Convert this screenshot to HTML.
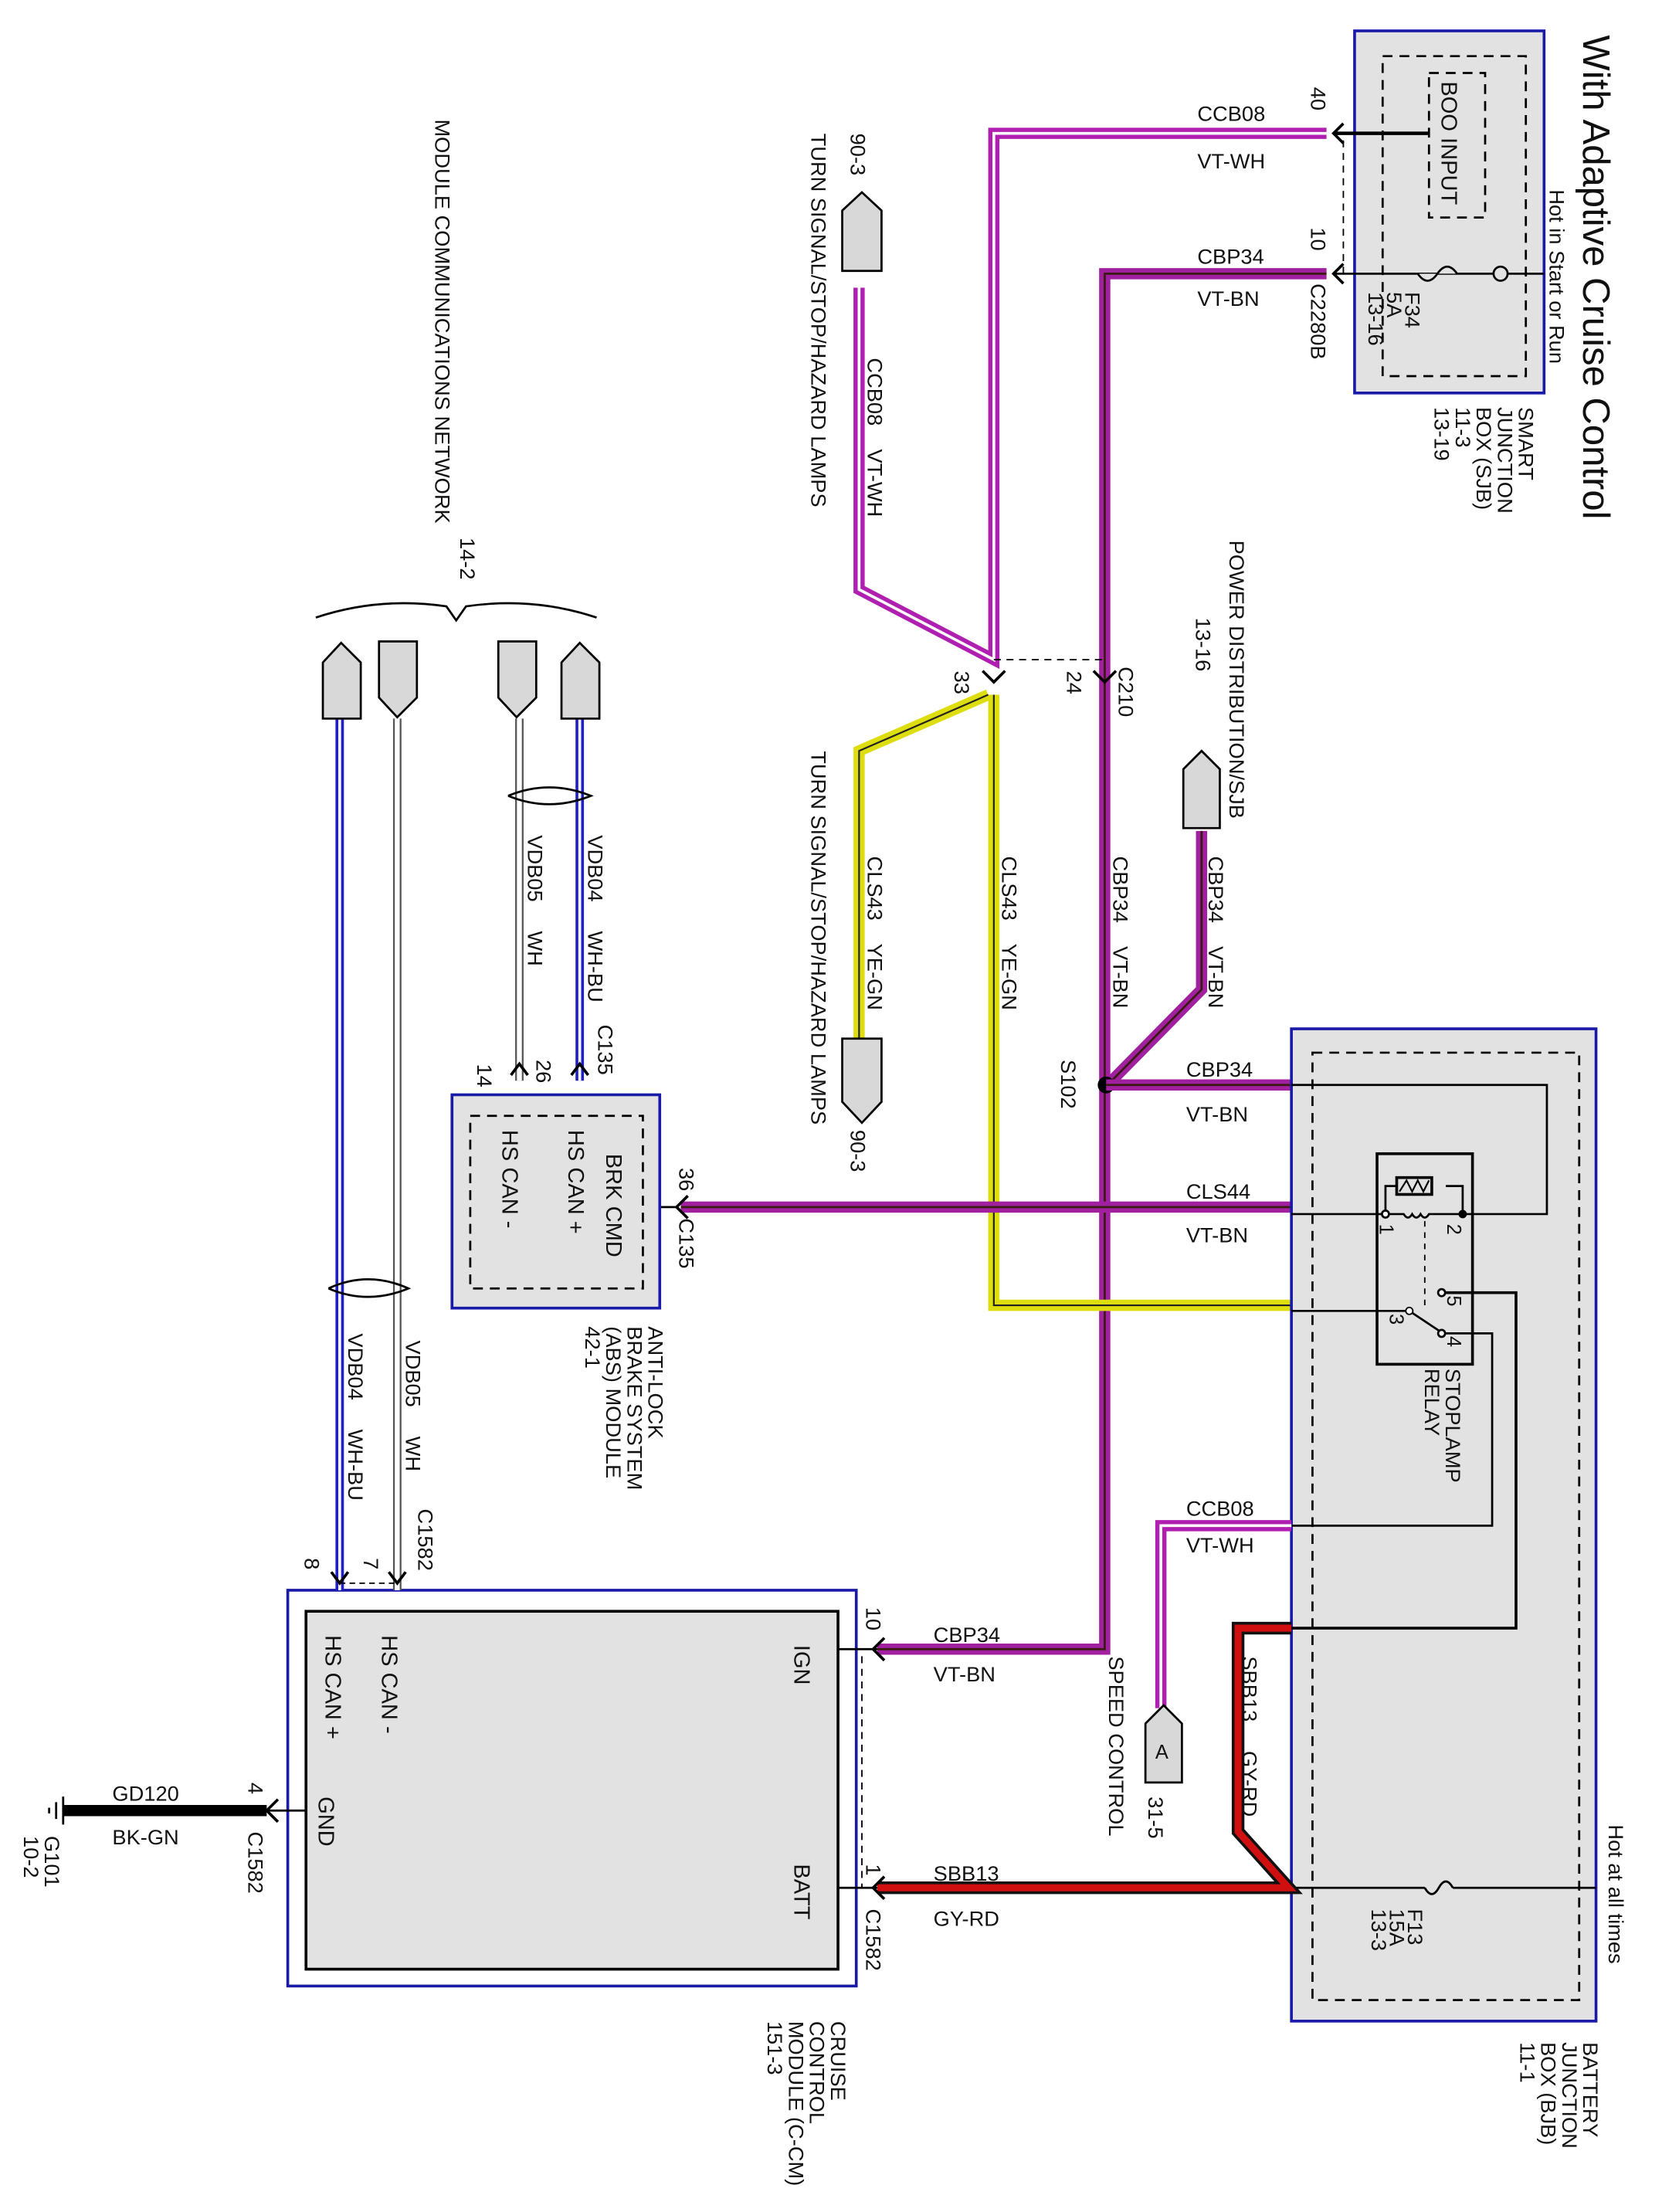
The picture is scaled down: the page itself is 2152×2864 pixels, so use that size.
<!DOCTYPE html>
<html><head><meta charset="utf-8"><style>
html,body{margin:0;padding:0;background:#fff;}
svg{display:block;}
text{font-family:"Liberation Sans",sans-serif;fill:#111;}
</style></head><body>
<svg width="2152" height="2864" viewBox="0 0 1184 1576" preserveAspectRatio="none" xmlns="http://www.w3.org/2000/svg" font-size="14">
<rect width="1184" height="1576" fill="#fff"/>

<!-- SJB -->
<rect x="965" y="22" width="135" height="258" fill="#e2e2e2" stroke="#1a1aa8" stroke-width="2"/>
<rect x="985" y="40" width="102" height="228" fill="none" stroke="#000" stroke-width="1.5" stroke-dasharray="7,5"/>
<rect x="1018" y="52" width="40" height="103" fill="none" stroke="#000" stroke-width="1.5" stroke-dasharray="7,5"/>
<text transform="translate(1027,58) rotate(90)" font-size="16">BOO INPUT</text>
<line x1="1018" y1="95" x2="950" y2="95" stroke="#000" stroke-width="2.5"/>
<line x1="1100" y1="195" x2="950" y2="195" stroke="#000" stroke-width="1.5"/>
<circle cx="1069" cy="195" r="5" fill="#e2e2e2" stroke="#000" stroke-width="1.5"/>
<path d="M1038 195 q-7 -10 -14 0 q-7 10 -14 0" fill="#e2e2e2" stroke="#000" stroke-width="1.5"/>
<text transform="translate(1001,208) rotate(90)" font-size="15">F34</text>
<text transform="translate(988,208) rotate(90)" font-size="15">5A</text>
<text transform="translate(975,208) rotate(90)" font-size="15">13-16</text>
<line x1="957" y1="100" x2="957" y2="195" stroke="#000" stroke-dasharray="5,4"/>
<path d="M957 88 L950 95 L957 102 M957 188 L950 195 L957 202" fill="none" stroke="#000" stroke-width="2"/>
<text transform="translate(934,62) rotate(90)" font-size="15">40</text>
<text transform="translate(934,162) rotate(90)" font-size="15">10</text>
<text transform="translate(934,202) rotate(90)" font-size="15">C2280B</text>
<text transform="translate(1128,25) rotate(90)" font-size="27">With Adaptive Cruise Control</text>
<text transform="translate(1104,135) rotate(90)" font-size="15">Hot in Start or Run</text>
<g font-size="15">
<text transform="translate(1082,290) rotate(90)">SMART</text>
<text transform="translate(1067,290) rotate(90)">JUNCTION</text>
<text transform="translate(1052,290) rotate(90)">BOX (SJB)</text>
<text transform="translate(1037,290) rotate(90)">11-3</text>
<text transform="translate(1022,290) rotate(90)">13-19</text>
</g>

<!-- CCB08 from SJB -->
<path d="M945 95 H708 V470 L612 420 V205" fill="none" stroke="#b020b0" stroke-width="8"/>
<path d="M945 95 H708 V470 L612 420 V205" fill="none" stroke="#fff" stroke-width="2"/>
<text x="853" y="86" font-size="15">CCB08</text><text x="853" y="120" font-size="15">VT-WH</text>
<!-- CBP34 from SJB -->
<path d="M945 195 H787 V1175 H625" fill="none" stroke="#a020a0" stroke-width="8"/>
<path d="M945 195 H787 V1175 H625" fill="none" stroke="#3a1a10" stroke-width="1.5"/>
<text x="853" y="188" font-size="15">CBP34</text><text x="853" y="218" font-size="15">VT-BN</text>

<!-- C210 -->
<line x1="708" y1="470" x2="787" y2="470" stroke="#000" stroke-dasharray="5,4"/>
<path d="M700 478 L708 486 L716 478 M779 478 L787 486 L795 478" fill="none" stroke="#000" stroke-width="2"/>
<g font-size="15">
<text transform="translate(797,475) rotate(90)">C210</text>
<text transform="translate(760,478) rotate(90)">24</text>
<text transform="translate(680,478) rotate(90)">33</text>
</g>

<!-- yellow CLS43 -->
<path d="M708 495 V930 H920" fill="none" stroke="#dddd10" stroke-width="8"/>
<path d="M708 495 V930 H920" fill="none" stroke="#222" stroke-width="1.2"/>
<path d="M704 495 L612 535 V740" fill="none" stroke="#dddd10" stroke-width="8"/>
<path d="M704 495 L612 535 V740" fill="none" stroke="#222" stroke-width="1.2"/>

<!-- pentagon connectors -->
<path d="M600 193 V150 L614 137 L628 150 V193 Z" fill="#d8d8d8" stroke="#000" stroke-width="1.5"/>
<path d="M600 740 V785 L614 800 L628 785 V740 Z" fill="#d8d8d8" stroke="#000" stroke-width="1.5"/>
<g font-size="15">
<text transform="translate(606,95) rotate(90)">90-3</text>
<text transform="translate(578,95) rotate(90)">TURN SIGNAL/STOP/HAZARD LAMPS</text>
<text transform="translate(618,255) rotate(90)" xml:space="preserve">CCB08    VT-WH</text>
<text transform="translate(606,805) rotate(90)">90-3</text>
<text transform="translate(578,535) rotate(90)">TURN SIGNAL/STOP/HAZARD LAMPS</text>
<text transform="translate(618,610) rotate(90)" xml:space="preserve">CLS43    YE-GN</text>
<text transform="translate(714,610) rotate(90)" xml:space="preserve">CLS43    YE-GN</text>
<text transform="translate(793,610) rotate(90)" xml:space="preserve">CBP34    VT-BN</text>
</g>

<!-- power distribution -->
<path d="M843 590 V548 L856 535 L869 548 V590 Z" fill="#d8d8d8" stroke="#000" stroke-width="1.5"/>
<path d="M856 592 V705 L790 772" fill="none" stroke="#a020a0" stroke-width="8"/>
<path d="M856 592 V705 L790 772" fill="none" stroke="#3a1a10" stroke-width="1.5"/>
<g font-size="15">
<text transform="translate(861,610) rotate(90)" xml:space="preserve">CBP34    VT-BN</text>
<text transform="translate(876,385) rotate(90)">POWER DISTRIBUTION/SJB</text>
<text transform="translate(852,440) rotate(90)">13-16</text>
<text transform="translate(756,755) rotate(90)">S102</text>
</g>
<circle cx="788" cy="773" r="6" fill="#000"/>
<path d="M788 773 H920" fill="none" stroke="#a020a0" stroke-width="8"/>
<path d="M788 773 H920" fill="none" stroke="#3a1a10" stroke-width="1.5"/>
<text x="845" y="767" font-size="15">CBP34</text><text x="845" y="799" font-size="15">VT-BN</text>

<!-- CLS44 -->
<path d="M485 860 H920" fill="none" stroke="#a020a0" stroke-width="8"/>
<path d="M485 860 H920" fill="none" stroke="#3a1a10" stroke-width="1.5"/>
<path d="M490 852 L482 860 L490 868" fill="none" stroke="#000" stroke-width="2"/>
<line x1="460" y1="860" x2="482" y2="860" stroke="#000" stroke-width="1.5"/>
<text x="845" y="854" font-size="15">CLS44</text><text x="845" y="885" font-size="15">VT-BN</text>
<text transform="translate(484,832) rotate(90)" font-size="15">36</text>
<text transform="translate(484,868) rotate(90)" font-size="15">C135</text>

<!-- BJB -->
<rect x="920" y="733" width="217" height="707" fill="#e2e2e2" stroke="#1a1aa8" stroke-width="2"/>
<rect x="935" y="750" width="190" height="675" fill="none" stroke="#000" stroke-width="1.5" stroke-dasharray="7,5"/>
<rect x="981" y="822" width="68" height="150" fill="none" stroke="#000" stroke-width="2"/>
<path d="M920 773 H1102 V865 H1042" fill="none" stroke="#000" stroke-width="1.5"/>
<path d="M920 865 H987" fill="none" stroke="#000" stroke-width="1.5"/>
<path d="M987 865 V845 H995 M1042 865 V845 H1030" fill="none" stroke="#000" stroke-width="1.5"/>
<rect x="995" y="839" width="25" height="12" fill="none" stroke="#000" stroke-width="2"/>
<path d="M997 849 L1002 841 L1006 849 L1010 841 L1014 849 L1018 841" fill="none" stroke="#000" stroke-width="1.2"/>
<path d="M990 865 H1000 q3 5 6 0 q3 5 6 0 q3 5 6 0 H1040" fill="none" stroke="#000" stroke-width="1.5"/>
<line x1="1015" y1="870" x2="1015" y2="930" stroke="#000" stroke-dasharray="4,4"/>
<circle cx="987" cy="865" r="2.5" fill="#fff" stroke="#000" stroke-width="1.5"/>
<circle cx="1042" cy="865" r="3" fill="#000"/>
<text transform="translate(983,872) rotate(90)" font-size="14">1</text>
<text transform="translate(1031,872) rotate(90)" font-size="14">2</text>
<path d="M920 934 H1004 L1025 948" fill="none" stroke="#000" stroke-width="1.5"/>
<circle cx="1004" cy="934" r="2.5" fill="#fff" stroke="#000"/>
<circle cx="1027" cy="921" r="2.5" fill="#fff" stroke="#000" stroke-width="1.5"/>
<circle cx="1027" cy="950" r="2.5" fill="#fff" stroke="#000" stroke-width="1.5"/>
<text transform="translate(990,936) rotate(90)" font-size="14">3</text>
<text transform="translate(1031,923) rotate(90)" font-size="14">5</text>
<text transform="translate(1031,952) rotate(90)" font-size="14">4</text>
<path d="M1030 921 H1080 V1160 H920" fill="none" stroke="#000" stroke-width="2"/>
<path d="M1030 950 H1063 V1087 H920" fill="none" stroke="#000" stroke-width="1.5"/>
<text transform="translate(1030,975) rotate(90)" font-size="15">STOPLAMP</text>
<text transform="translate(1015,975) rotate(90)" font-size="15">RELAY</text>
<line x1="920" y1="1345" x2="1137" y2="1345" stroke="#000" stroke-width="1.5"/>
<rect x="1015" y="1341" width="20" height="8" fill="#e2e2e2"/>
<path d="M1035 1345 q-5 -9 -10 0 q-5 9 -10 0" fill="none" stroke="#000" stroke-width="1.5"/>
<g font-size="15">
<text transform="translate(1003,1360) rotate(90)">F13</text>
<text transform="translate(990,1360) rotate(90)">15A</text>
<text transform="translate(977,1360) rotate(90)">13-3</text>
<text transform="translate(1146,1300) rotate(90)">Hot at all times</text>
<text transform="translate(1128,1455) rotate(90)">BATTERY</text>
<text transform="translate(1113,1455) rotate(90)">JUNCTION</text>
<text transform="translate(1098,1455) rotate(90)">BOX (BJB)</text>
<text transform="translate(1083,1455) rotate(90)">11-1</text>
</g>

<!-- CCB08 speed control -->
<path d="M920 1087 H827 V1217" fill="none" stroke="#b020b0" stroke-width="8"/>
<path d="M920 1087 H827 V1217" fill="none" stroke="#fff" stroke-width="2"/>
<text x="845" y="1080" font-size="15">CCB08</text><text x="845" y="1106" font-size="15">VT-WH</text>
<path d="M816 1270 V1228 L829 1215 L842 1228 V1270 Z" fill="#d8d8d8" stroke="#000" stroke-width="1.5"/>
<text x="823" y="1253" font-size="14">A</text>
<text transform="translate(818,1280) rotate(90)" font-size="15">31-5</text>
<text transform="translate(790,1180) rotate(90)" font-size="15">SPEED CONTROL</text>

<!-- SBB13 -->
<path d="M920 1160 H882 V1305 L918 1345 H625" fill="none" stroke="#111" stroke-width="9"/>
<path d="M920 1160 H882 V1305 L918 1345 H625" fill="none" stroke="#d01010" stroke-width="5"/>
<text transform="translate(885,1180) rotate(90)" font-size="15" xml:space="preserve">SBB13     GY-RD</text>
<text x="665" y="1340" font-size="15">SBB13</text><text x="665" y="1372" font-size="15">GY-RD</text>
<text x="665" y="1170" font-size="15">CBP34</text><text x="665" y="1198" font-size="15">VT-BN</text>

<!-- C-CM -->
<rect x="205" y="1133" width="405" height="282" fill="#fff" stroke="#1a1aa8" stroke-width="2"/>
<rect x="218" y="1148" width="379" height="255" fill="#e2e2e2" stroke="#000" stroke-width="2"/>
<line x1="597" y1="1175" x2="625" y2="1175" stroke="#000" stroke-width="1.5"/>
<line x1="597" y1="1345" x2="625" y2="1345" stroke="#000" stroke-width="1.5"/>
<path d="M630 1167 L622 1175 L630 1183 M630 1337 L622 1345 L630 1353" fill="none" stroke="#000" stroke-width="2"/>
<line x1="614" y1="1180" x2="614" y2="1345" stroke="#000" stroke-dasharray="5,4"/>
<g font-size="15">
<text transform="translate(617,1145) rotate(90)">10</text>
<text transform="translate(617,1328) rotate(90)">1</text>
<text transform="translate(617,1360) rotate(90)">C1582</text>
<text transform="translate(566,1172) rotate(90)" font-size="16">IGN</text>
<text transform="translate(566,1328) rotate(90)" font-size="16">BATT</text>
<text transform="translate(272,1165) rotate(90)" font-size="16">HS CAN -</text>
<text transform="translate(232,1165) rotate(90)" font-size="16">HS CAN +</text>
<text transform="translate(227,1280) rotate(90)" font-size="16">GND</text>
<text transform="translate(592,1440) rotate(90)">CRUISE</text>
<text transform="translate(577,1440) rotate(90)">CONTROL</text>
<text transform="translate(562,1440) rotate(90)">MODULE (C-CM)</text>
<text transform="translate(547,1440) rotate(90)">151-3</text>
</g>

<!-- GND -->
<line x1="45" y1="1290" x2="190" y2="1290" stroke="#000" stroke-width="8"/>
<line x1="190" y1="1290" x2="218" y2="1290" stroke="#000" stroke-width="1.5"/>
<path d="M198 1282 L190 1290 L198 1298" fill="none" stroke="#000" stroke-width="2"/>
<text x="80" y="1283" font-size="15">GD120</text><text x="80" y="1314" font-size="15">BK-GN</text>
<text transform="translate(177,1270) rotate(90)" font-size="15">4</text>
<text transform="translate(177,1305) rotate(90)" font-size="15">C1582</text>
<path d="M45 1280 V1300 M40 1284 V1296 M35 1288 V1292" stroke="#000" stroke-width="1.5"/>
<text transform="translate(32,1308) rotate(90)" font-size="15">G101</text>
<text transform="translate(17,1308) rotate(90)" font-size="15">10-2</text>

<!-- CAN wires to C-CM -->
<path d="M242 512 V1133" stroke="#2020c0" stroke-width="6" fill="none"/>
<path d="M242 512 V1133" stroke="#fff" stroke-width="2" fill="none"/>
<path d="M283 512 V1133" stroke="#555" stroke-width="6" fill="none"/>
<path d="M283 512 V1133" stroke="#fff" stroke-width="3.5" fill="none"/>
<path d="M234 918 Q262 905 291 918 Q262 930 234 918" fill="none" stroke="#000" stroke-width="1.5"/>
<path d="M236 1120 L242 1128 L248 1120 M277 1120 L283 1128 L289 1120" fill="none" stroke="#000" stroke-width="2"/>
<line x1="242" y1="1128" x2="283" y2="1128" stroke="#000" stroke-dasharray="4,3"/>
<path d="M230 512 V472 L243 458 L257 472 V512 Z" fill="#d8d8d8" stroke="#000" stroke-width="1.5"/>
<path d="M270 457 V497 L283 511 L297 497 V457 Z" fill="#d8d8d8" stroke="#000" stroke-width="1.5"/>
<g font-size="15">
<text transform="translate(248,950) rotate(90)" xml:space="preserve">VDB04     WH-BU</text>
<text transform="translate(289,955) rotate(90)" xml:space="preserve">VDB05     WH</text>
<text transform="translate(298,1075) rotate(90)">C1582</text>
<text transform="translate(217,1110) rotate(90)">8</text>
<text transform="translate(259,1110) rotate(90)">7</text>
</g>

<!-- network brace -->
<path d="M225 440 Q270 425 318 432 L325 442 L332 432 Q380 425 425 440" fill="none" stroke="#000" stroke-width="1.5"/>
<text transform="translate(328,383) rotate(90)" font-size="15">14-2</text>
<text transform="translate(310,85) rotate(90)" font-size="15">MODULE COMMUNICATIONS NETWORK</text>

<!-- ABS -->
<path d="M413 512 V770" stroke="#2020c0" stroke-width="6" fill="none"/>
<path d="M413 512 V770" stroke="#fff" stroke-width="2" fill="none"/>
<path d="M370 512 V770" stroke="#555" stroke-width="6" fill="none"/>
<path d="M370 512 V770" stroke="#fff" stroke-width="3.5" fill="none"/>
<path d="M362 567 Q391 555 421 567 Q391 579 362 567" fill="none" stroke="#000" stroke-width="1.5"/>
<path d="M355 457 V497 L368 511 L382 497 V457 Z" fill="#d8d8d8" stroke="#000" stroke-width="1.5"/>
<path d="M400 512 V472 L413 458 L427 472 V512 Z" fill="#d8d8d8" stroke="#000" stroke-width="1.5"/>
<path d="M364 766 L370 758 L376 766 M407 766 L413 758 L419 766" fill="none" stroke="#000" stroke-width="2"/>
<g font-size="15">
<text transform="translate(419,595) rotate(90)" xml:space="preserve">VDB04     WH-BU</text>
<text transform="translate(376,595) rotate(90)" xml:space="preserve">VDB05     WH</text>
<text transform="translate(426,730) rotate(90)">C135</text>
<text transform="translate(382,755) rotate(90)">26</text>
<text transform="translate(340,758) rotate(90)">14</text>
</g>
<rect x="322" y="780" width="148" height="152" fill="#e2e2e2" stroke="#1a1aa8" stroke-width="2"/>
<rect x="335" y="795" width="123" height="123" fill="none" stroke="#000" stroke-width="1.5" stroke-dasharray="7,5"/>
<g font-size="16">
<text transform="translate(432,822) rotate(90)">BRK CMD</text>
<text transform="translate(405,805) rotate(90)">HS CAN +</text>
<text transform="translate(358,805) rotate(90)">HS CAN -</text>
</g>
<g font-size="15">
<text transform="translate(462,945) rotate(90)">ANTI-LOCK</text>
<text transform="translate(447,945) rotate(90)">BRAKE SYSTEM</text>
<text transform="translate(432,945) rotate(90)">(ABS) MODULE</text>
<text transform="translate(417,945) rotate(90)">42-1</text>
</g>
</svg>
</body></html>
